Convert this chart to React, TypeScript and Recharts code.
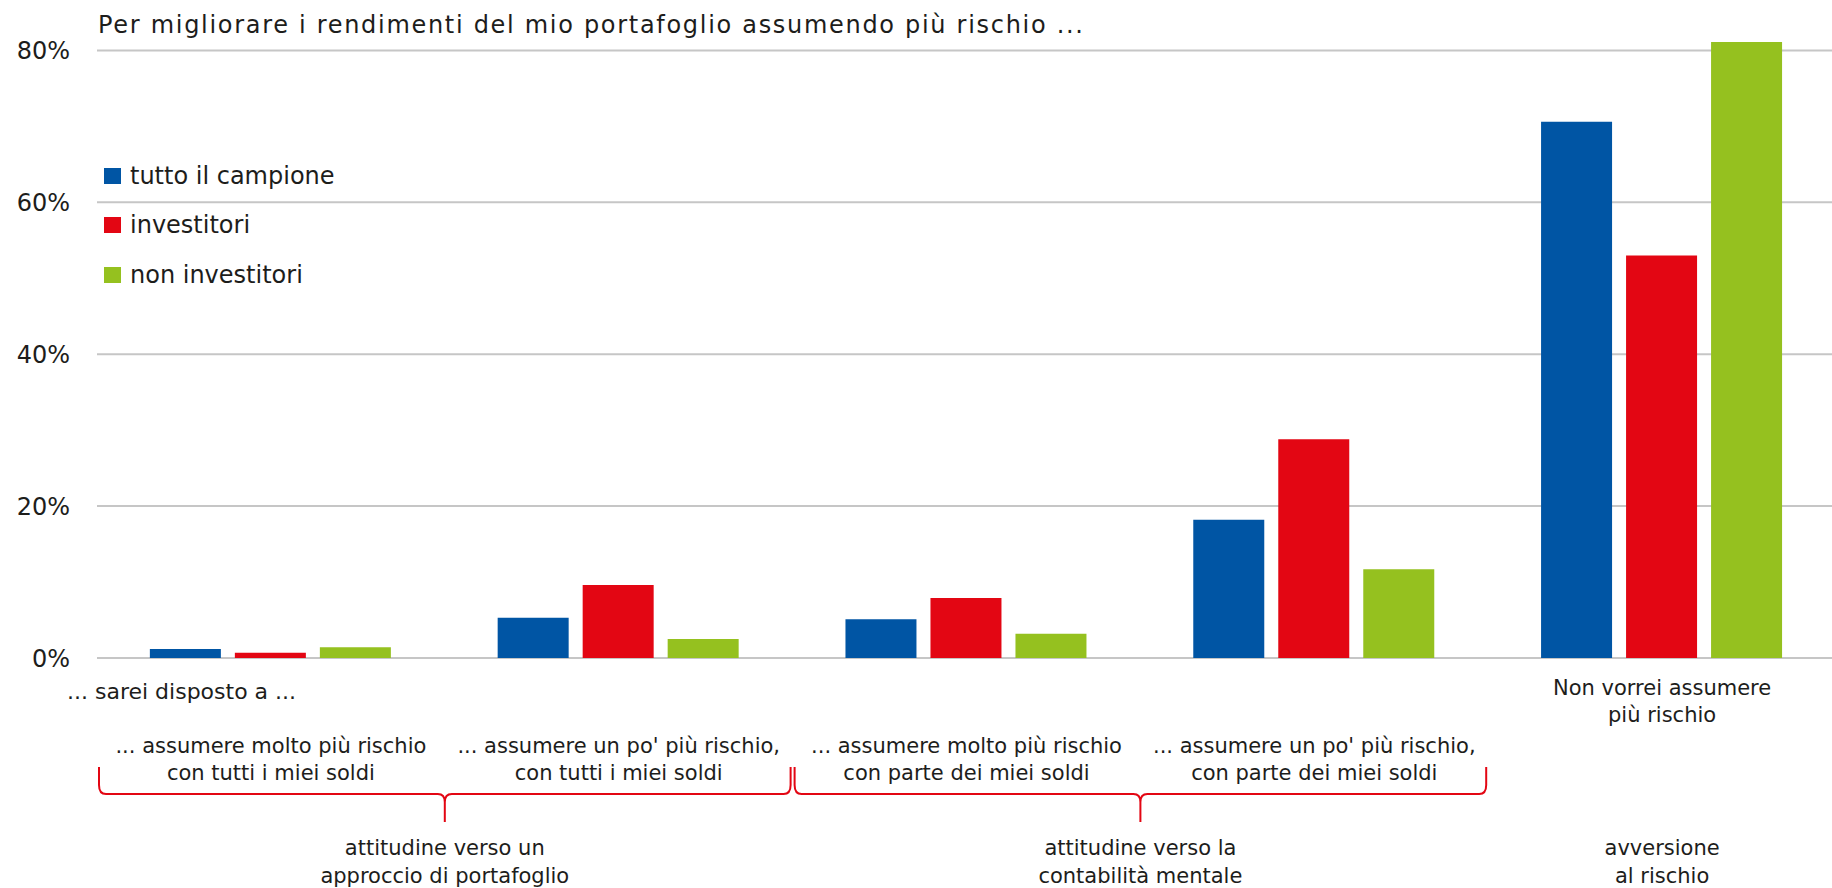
import { BarChart, Bar, XAxis, YAxis, CartesianGrid, Legend } from "recharts";

// categories on the x axis (lines separated by \n)
const categories = [
  "... assumere molto più rischio\ncon tutti i miei soldi",
  "... assumere un po' più rischio,\ncon tutti i miei soldi",
  "... assumere molto più rischio\ncon parte dei miei soldi",
  "... assumere un po' più rischio,\ncon parte dei miei soldi",
  "Non vorrei assumere\npiù rischio",
];

// values in %
const tuttoIlCampione = [1.2, 5.3, 5.1, 18.2, 70.6];
const investitori = [0.7, 9.6, 7.9, 28.8, 53.0];
const nonInvestitori = [1.4, 2.5, 3.2, 11.7, 81.1];

const yTicks = [0, 20, 40, 60, 80];
const Y_MAX = 84;

const groupLabels = [
  ["attitudine verso un", "approccio di portafoglio"],
  ["attitudine verso la", "contabilità mentale"],
  ["avversione", "al rischio"],
];
// first and last category index of each group
const groupStart = [0, 2, 4];
const groupEnd = [1, 3, 4];

const title = "Per migliorare i rendimenti del mio portafoglio assumendo più rischio ...";
const prefix = "... sarei disposto a ...";

const seriesOrder = ["tutto", "inv", "non"];

const data = categories.map((name, i) => ({
  name,
  tutto: tuttoIlCampione[i],
  inv: investitori[i],
  non: nonInvestitori[i],
}));

const BLUE = "#0055a4";
const RED = "#e30613";
const GREEN = "#95c11f";
const GRID = "#c6c6c6";
const TEXT = "#1d1d1b";
const FONT = "'DejaVu Sans', sans-serif";

const CHART_W = 1836;
const CHART_H = 888;
const Y_W = 97;
const PLOT_W = CHART_W - Y_W;
const BAND = PLOT_W / categories.length;

function CategoryTick(props: any) {
  const { x, y, payload, index } = props;
  const lines = String(payload.value).split("\n");
  const g = groupStart.findIndex((s, k) => index >= s && index <= groupEnd[k]);
  const braced = g >= 0 && groupEnd[g] > groupStart[g];
  const top = braced ? 95 : 37;
  const out: any[] = [];

  lines.forEach((ln, k) => {
    out.push(
      <text key={"l" + k} x={x} y={y + top + k * 27} textAnchor="middle" fontSize={21} fill={TEXT}>
        {ln}
      </text>
    );
  });

  if (index === 0) {
    out.push(
      <text key="pre" x={x - BAND / 2 - 30} y={y + 41} textAnchor="start" fontSize={22} fill={TEXT}>
        {prefix}
      </text>
    );
  }

  if (g >= 0 && index === groupStart[g]) {
    const span = groupEnd[g] - groupStart[g];
    const cx = x + (span * BAND) / 2;
    groupLabels[g].forEach((ln, k) => {
      out.push(
        <text key={"g" + k} x={cx} y={y + 197 + k * 27.5} textAnchor="middle" fontSize={21} fill={TEXT}>
          {ln}
        </text>
      );
    });
    if (span > 0) {
      const half = (span * BAND) / 2 + BAND / 2 - 2;
      const l = cx - half;
      const r = cx + half;
      const t = y + 109;
      const b = y + 136;
      const tip = y + 164;
      const d =
        `M${l},${t} L${l},${b - 9} Q${l},${b} ${l + 7},${b} ` +
        `L${cx - 7},${b} Q${cx},${b} ${cx},${b + 8} L${cx},${tip} ` +
        `M${cx},${b + 8} Q${cx},${b} ${cx + 7},${b} ` +
        `L${r - 7},${b} Q${r},${b} ${r},${b - 9} L${r},${t}`;
      out.push(<path key="br" d={d} fill="none" stroke={RED} strokeWidth={2} />);
    }
  }

  return <g>{out}</g>;
}

function LegendContent(props: any) {
  const { payload } = props;
  const items = [...(payload || [])].sort(
    (a: any, b: any) => seriesOrder.indexOf(a.dataKey) - seriesOrder.indexOf(b.dataKey)
  );
  return (
    <div style={{ fontFamily: FONT, fontSize: 24, color: TEXT }}>
      {items.map((p: any) => (
        <div key={p.value} style={{ display: "flex", alignItems: "center", height: 49.5 }}>
          <span style={{ display: "inline-block", width: 17, height: 16, background: p.color, marginRight: 9 }} />
          <span>{p.value}</span>
        </div>
      ))}
    </div>
  );
}

// grid lines only at the y ticks (no line at the top of the plot)
function gridRows(args: any) {
  const yAxis = args && args.yAxis;
  if (yAxis && typeof yAxis.scale === "function") {
    return yTicks.map((t) => yAxis.scale(t));
  }
  const off = args.offset;
  return yTicks.map((t) => off.top + off.height * (1 - t / Y_MAX));
}

export default function App() {
  return (
    <div
      style={{
        position: "absolute",
        left: 0,
        top: 0,
        width: 1832,
        height: 888,
        overflow: "hidden",
        background: "#fff",
        fontFamily: FONT,
      }}
    >
      <div
        style={{
          position: "absolute",
          left: 98,
          top: 11,
          fontSize: 24,
          letterSpacing: 1.7,
          color: TEXT,
          whiteSpace: "nowrap",
          zIndex: 2,
        }}
      >
        {title}
      </div>
      <BarChart
        width={CHART_W}
        height={CHART_H}
        data={data}
        margin={{ top: 20, right: 0, bottom: 0, left: 0 }}
        barCategoryGap="15.2%"
        barGap={14}
        style={{ fontFamily: FONT }}
      >
        <CartesianGrid
          vertical={false}
          stroke={GRID}
          strokeWidth={2}
          horizontalCoordinatesGenerator={gridRows}
        />
        <XAxis
          dataKey="name"
          height={230}
          axisLine={false}
          tickLine={false}
          tickSize={0}
          tickMargin={0}
          interval={0}
          tick={<CategoryTick />}
        />
        <YAxis
          width={Y_W}
          domain={[0, Y_MAX]}
          ticks={yTicks}
          axisLine={false}
          tickLine={false}
          tickSize={0}
          tickMargin={27}
          tickFormatter={(v: number) => `${v}%`}
          tick={{ fontSize: 24, fill: TEXT }}
        />
        <Legend
          layout="horizontal"
          verticalAlign="middle"
          align="center"
          content={<LegendContent />}
          wrapperStyle={{ position: "absolute", left: 104, top: 151, width: "auto", height: "auto" }}
        />
        <Bar dataKey="tutto" name="tutto il campione" fill={BLUE} isAnimationActive={false} />
        <Bar dataKey="inv" name="investitori" fill={RED} isAnimationActive={false} />
        <Bar dataKey="non" name="non investitori" fill={GREEN} isAnimationActive={false} />
      </BarChart>
    </div>
  );
}
